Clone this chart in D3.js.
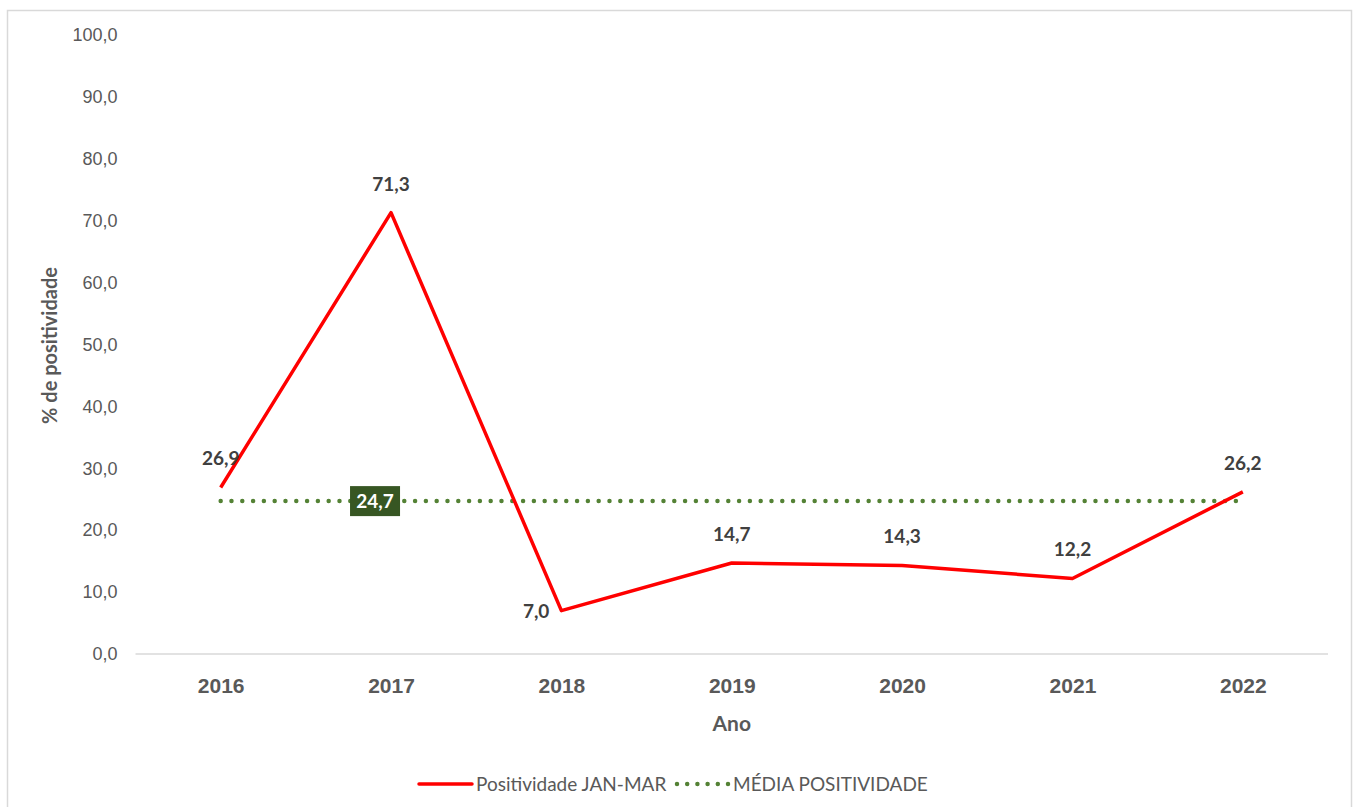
<!DOCTYPE html>
<html>
<head>
<meta charset="utf-8">
<script src="https://cdn.jsdelivr.net/npm/d3@7"></script>
<style>
  body { margin: 0; background: #fff; }
  svg { display: block; font-family: Lato, "Open Sans", sans-serif; }
</style>
</head>
<body>
<svg id="chart" width="1354" height="807"></svg>
<script>
// Chart data
const years = ["2016", "2017", "2018", "2019", "2020", "2021", "2022"];
const positividade = [26.9, 71.3, 7.0, 14.7, 14.3, 12.2, 26.2];
const mediaPositividade = 24.7;
const yTicks = [0, 10, 20, 30, 40, 50, 60, 70, 80, 90, 100];
const seriesNames = ["Positividade JAN-MAR", "MÉDIA POSITIVIDADE"];

const fmt = v => v.toFixed(1).replace(".", ",");

const svg = d3.select("#chart");

// outer chart frame
svg.append("rect")
  .attr("x", 7.5).attr("y", 10.5)
  .attr("width", 1344).attr("height", 810)
  .attr("fill", "none").attr("stroke", "#d9d9d9").attr("stroke-width", 1.5);

const plot = { left: 135.5, right: 1328, top: 35, bottom: 654 };

const x = d3.scalePoint().domain(years).range([plot.left, plot.right]).padding(0.5);
const y = d3.scaleLinear().domain([0, 100]).range([plot.bottom, plot.top]);

// Y axis labels (no axis line)
const yAxis = svg.append("g")
  .attr("transform", `translate(${plot.left},0)`)
  .call(d3.axisLeft(y).tickValues(yTicks).tickFormat(fmt).tickSize(0).tickPadding(18));
yAxis.select(".domain").remove();
yAxis.selectAll("text")
  .attr("fill", "#595959").attr("font-size", 18);

// Baseline
svg.append("line")
  .attr("x1", plot.left).attr("x2", plot.right)
  .attr("y1", y(0)).attr("y2", y(0))
  .attr("stroke", "#d9d9d9").attr("stroke-width", 1.3);

// X axis labels
const xAxis = svg.append("g")
  .attr("transform", `translate(0,${plot.bottom})`)
  .call(d3.axisBottom(x).tickSize(0).tickPadding(24));
xAxis.select(".domain").remove();
xAxis.selectAll("text")
  .attr("fill", "#595959").attr("font-size", 21).attr("font-weight", "bold");

// Axis titles
svg.append("text")
  .attr("x", (plot.left + plot.right) / 2).attr("y", 731)
  .attr("text-anchor", "middle").attr("fill", "#595959")
  .attr("font-size", 21).attr("font-weight", "bold")
  .text("Ano");

svg.append("text")
  .attr("transform", `translate(57,${(plot.top + plot.bottom) / 2 + 1}) rotate(-90)`)
  .attr("text-anchor", "middle").attr("fill", "#595959")
  .attr("font-size", 20).attr("font-weight", "bold")
  .text("% de positividade");

// Mean line (dotted)
svg.append("line")
  .attr("x1", x(years[0])).attr("x2", x(years[years.length - 1]))
  .attr("y1", y(mediaPositividade)).attr("y2", y(mediaPositividade))
  .attr("stroke", "#548235").attr("stroke-width", 4.5)
  .attr("stroke-linecap", "round").attr("stroke-dasharray", "0 10.8");

// Series line
const line = d3.line()
  .x((d, i) => x(years[i]))
  .y(d => y(d));

svg.append("path")
  .datum(positividade)
  .attr("d", line)
  .attr("fill", "none")
  .attr("stroke", "#ff0000")
  .attr("stroke-width", 3.5)
  .attr("stroke-linejoin", "round");

// Data labels
const labelOffsets = [
  { dx: 0, dy: -22, anchor: "middle" },
  { dx: 0, dy: -22, anchor: "middle" },
  { dx: -12, dy: 7, anchor: "end" },
  { dx: 0, dy: -22, anchor: "middle" },
  { dx: 0, dy: -22, anchor: "middle" },
  { dx: 0, dy: -22, anchor: "middle" },
  { dx: 0, dy: -22, anchor: "middle" }
];
svg.append("g").selectAll("text")
  .data(positividade)
  .join("text")
  .attr("x", (d, i) => x(years[i]) + labelOffsets[i].dx)
  .attr("y", (d, i) => y(d) + labelOffsets[i].dy)
  .attr("text-anchor", (d, i) => labelOffsets[i].anchor)
  .attr("fill", "#404040")
  .attr("font-size", 19).attr("font-weight", "bold")
  .text(fmt);

// Mean label box
const meanLabelX = x(years[1]) - 16;
const mg = svg.append("g").attr("transform", `translate(${meanLabelX},${y(mediaPositividade)})`);
mg.append("rect")
  .attr("x", -25).attr("y", -15).attr("width", 50).attr("height", 30)
  .attr("fill", "#375623");
mg.append("text")
  .attr("text-anchor", "middle").attr("dy", "0.35em")
  .attr("fill", "#fff").attr("font-size", 19).attr("font-weight", "bold")
  .text(fmt(mediaPositividade));

// Legend
const lg = svg.append("g").attr("transform", "translate(0,784)");
lg.append("line")
  .attr("x1", 419).attr("x2", 472).attr("y1", 0).attr("y2", 0)
  .attr("stroke", "#ff0000").attr("stroke-width", 3.5).attr("stroke-linecap", "round");
lg.append("text")
  .attr("x", 476).attr("dy", "0.35em")
  .attr("fill", "#595959").attr("font-size", 19)
  .text(seriesNames[0]);
lg.append("line")
  .attr("x1", 677).attr("x2", 728).attr("y1", 0).attr("y2", 0)
  .attr("stroke", "#548235").attr("stroke-width", 4.5)
  .attr("stroke-linecap", "round").attr("stroke-dasharray", "0 10.2");
lg.append("text")
  .attr("x", 733).attr("dy", "0.35em")
  .attr("fill", "#595959").attr("font-size", 19)
  .text(seriesNames[1]);
</script>
</body>
</html>
